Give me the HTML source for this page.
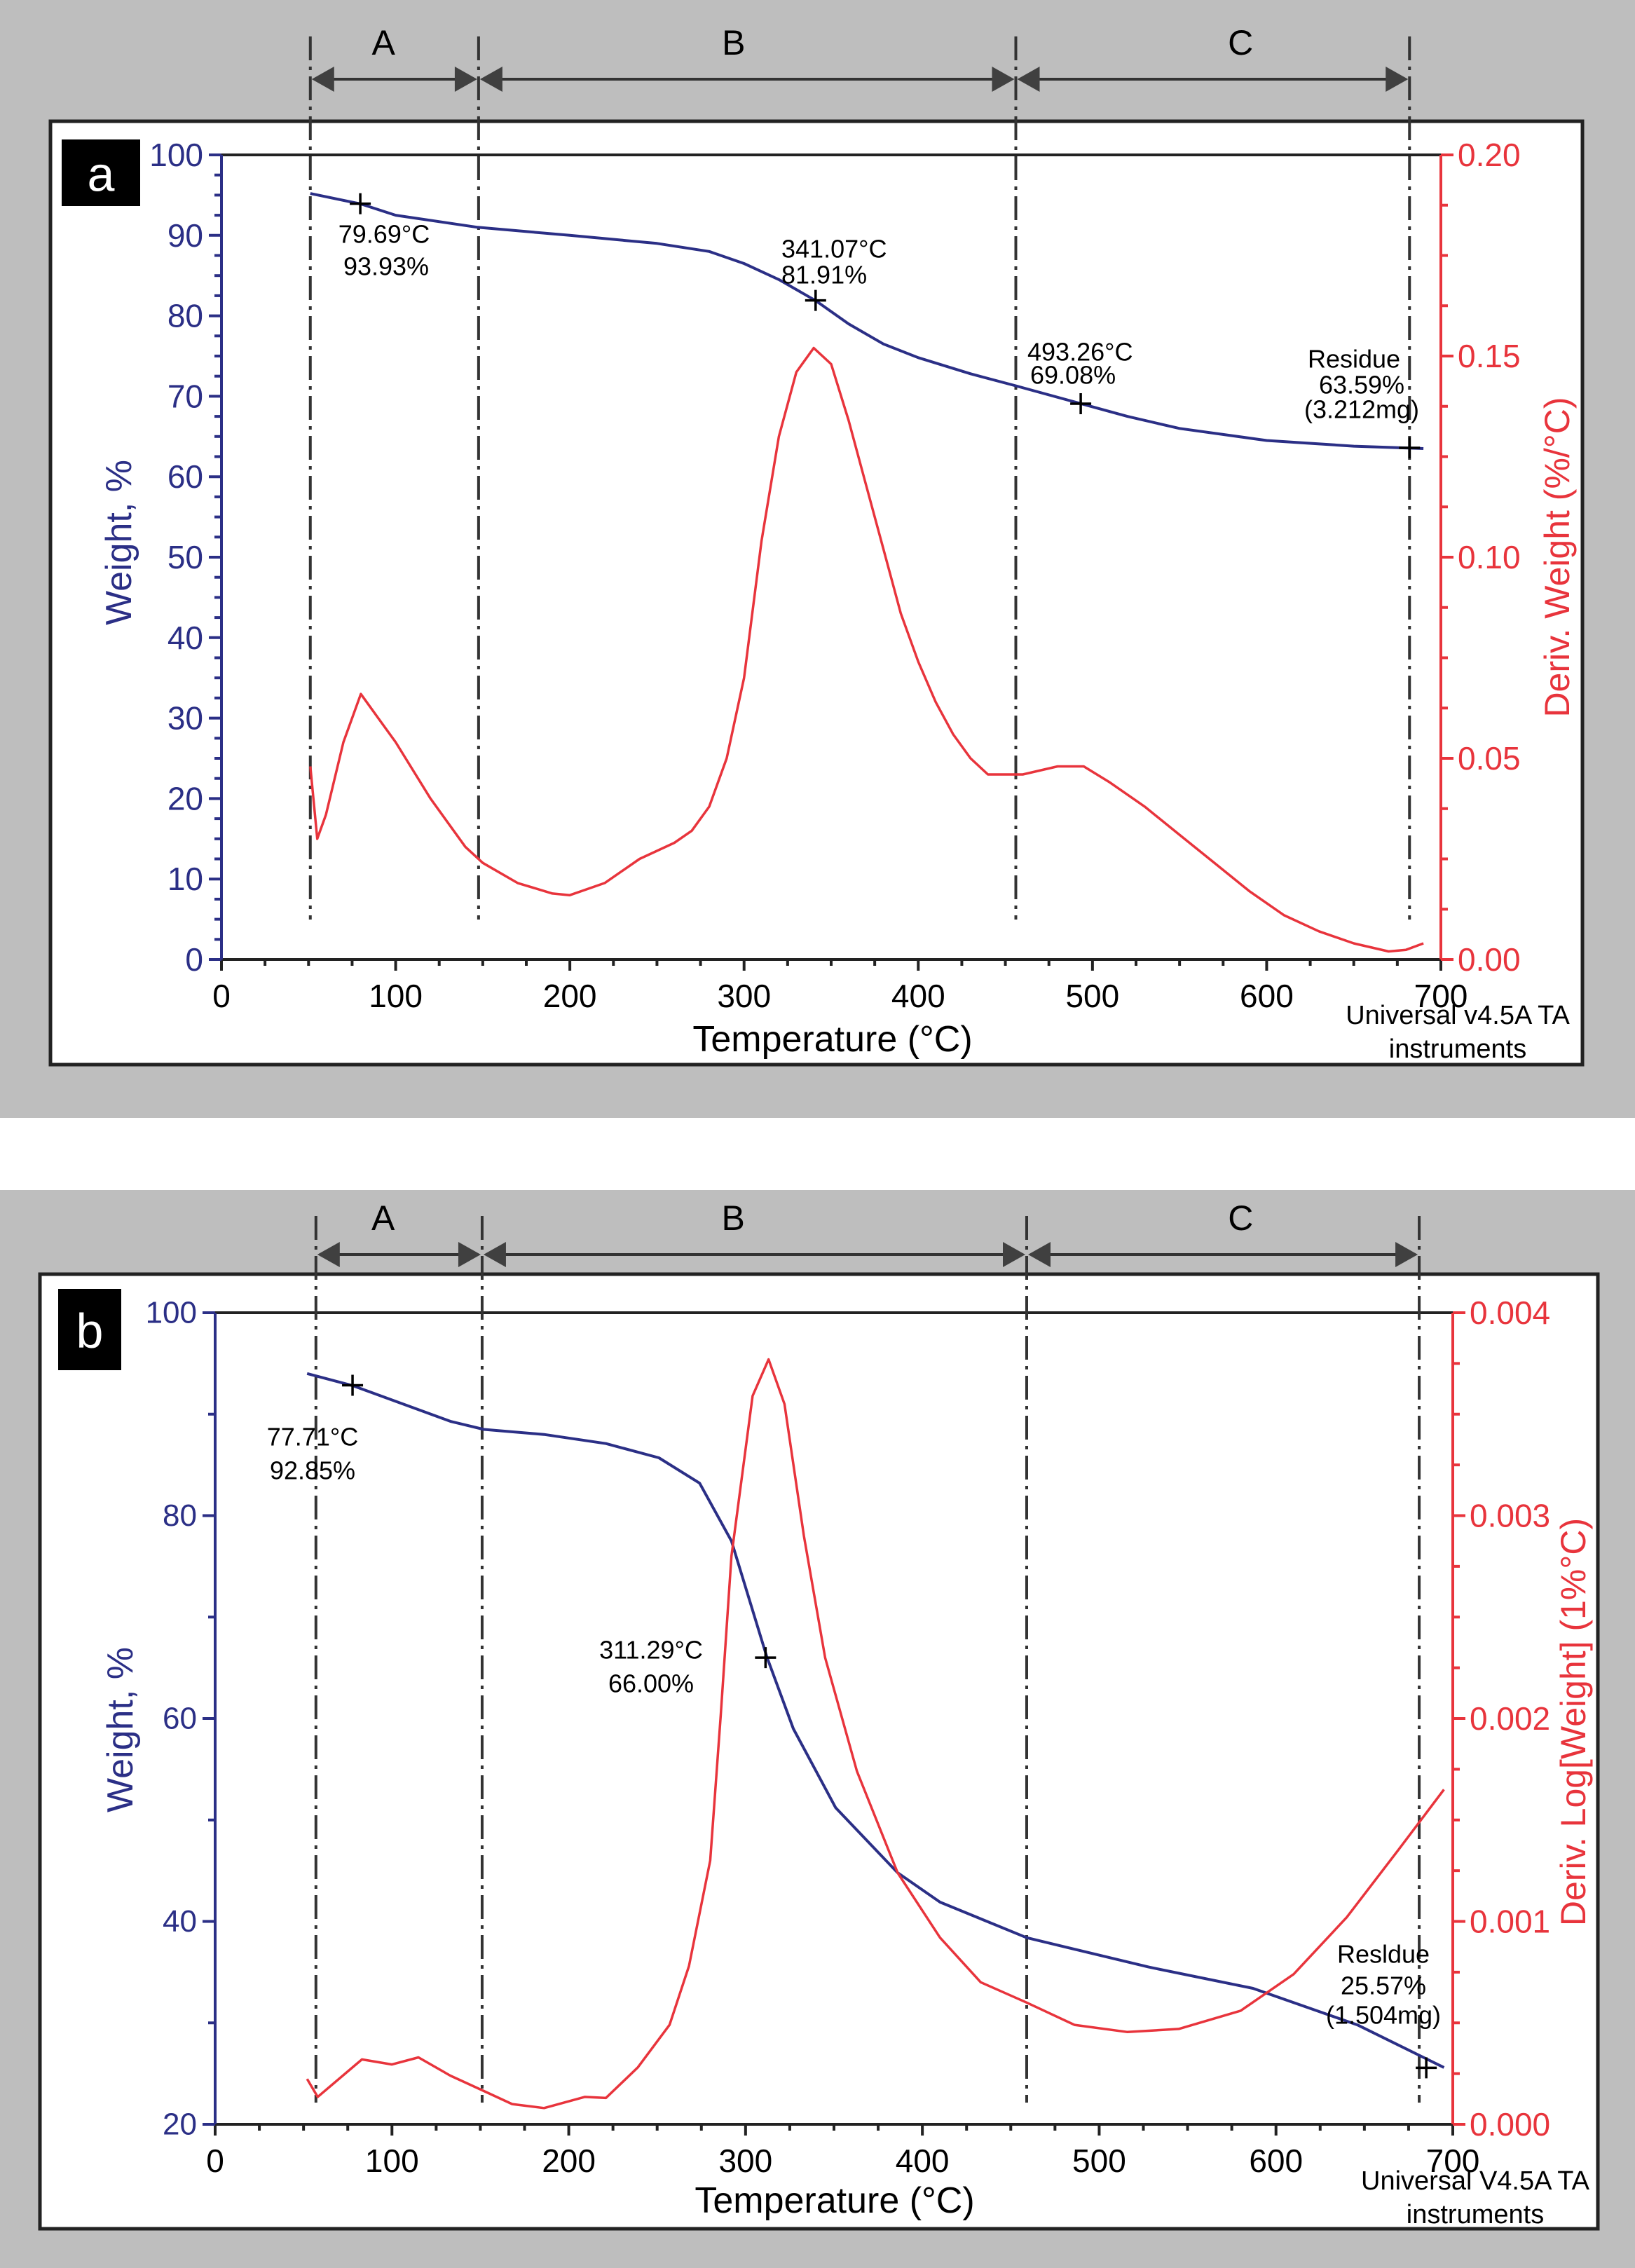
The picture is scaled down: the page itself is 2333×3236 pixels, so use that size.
<!DOCTYPE html>
<html><head><meta charset="utf-8">
<style>
html,body{margin:0;padding:0;background:#fff;}
svg{display:block;font-family:"Liberation Sans",Arial,sans-serif;}
</style></head>
<body>
<svg id="fig" width="2333" height="3236" viewBox="0 0 2333 3236" xmlns="http://www.w3.org/2000/svg"></svg>
<script>
// ---------- Panel a data ----------
const aWeightT = [51,80,100,147,200,250,280,300,320,341,360,380,400,430,456,493,520,550,600,650,690];
const aWeight  = [95.2,93.9,92.5,91,90,89,88,86.5,84.5,81.9,79,76.5,74.8,72.8,71.3,69.1,67.5,66,64.5,63.8,63.5];
const aDerivT  = [51,55,60,70,80,90,100,120,140,150,170,190,200,220,240,260,270,280,290,300,310,320,330,340,350,360,370,380,390,400,410,420,430,440,450,460,480,495,510,530,550,570,590,610,630,650,670,680,690];
const aDeriv   = [0.048,0.030,0.036,0.054,0.066,0.060,0.054,0.040,0.028,0.024,0.019,0.0164,0.016,0.019,0.025,0.029,0.032,0.038,0.050,0.070,0.104,0.130,0.146,0.152,0.148,0.134,0.118,0.102,0.086,0.074,0.064,0.056,0.050,0.046,0.046,0.046,0.048,0.048,0.044,0.038,0.031,0.024,0.017,0.011,0.007,0.004,0.002,0.0024,0.004];
const aBounds  = [51,147.6,456,682];
const aRegions = ["A","B","C"];
const aRegionLabelT = [93,294,585];
const aMarkT   = [79.69,341.07,493.26,682];
const aMarkW   = [93.93,81.91,69.08,63.59];
const aXTicks  = [0,100,200,300,400,500,600,700];
const aYTicks  = [0,10,20,30,40,50,60,70,80,90,100];
const aRTicks  = ["0.00","0.05","0.10","0.15","0.20"];

// ---------- Panel b data ----------
const bWeightT = [52,78,133,152,186,221,251,274,292,312,327,351,386,410,459,528,587,646,695];
const bWeight  = [94.0,92.8,89.3,88.5,88.0,87.1,85.7,83.2,77.5,66.1,59.0,51.2,44.8,41.9,38.4,35.5,33.4,29.8,25.6];
const bDerivT  = [52,58,83,100,115,133,152,168,186,209,221,239,257,268,280,286,292,304,313,322,333,345,363,386,410,433,459,486,516,545,580,610,640,669,695];
const bDeriv   = [0.000224,0.000135,0.00032,0.000295,0.00033,0.00024,0.000164,0.0001,0.00008,0.000135,0.00013,0.00028,0.00049,0.00078,0.0013,0.00202,0.0028,0.00359,0.00377,0.00355,0.0029,0.0023,0.00174,0.00124,0.00092,0.0007,0.0006,0.00049,0.000455,0.00047,0.00056,0.00074,0.00102,0.00135,0.00165];
const bBounds  = [57,151,459,681];
const bRegions = ["A","B","C"];
const bRegionLabelT = [95,293,580];
const bMarkT   = [77.71,311.29,685];
const bMarkW   = [92.85,66.00,25.57];
const bXTicks  = [0,100,200,300,400,500,600,700];
const bYTicks  = [20,40,60,80,100];
const bRTicks  = ["0.000","0.001","0.002","0.003","0.004"];

const NS="http://www.w3.org/2000/svg";
const svg=document.getElementById('fig');
const BLUE="#2b2f86", RED="#e8343c";
function mk(tag,attrs,parent,txt){const e=document.createElementNS(NS,tag);for(const k in attrs)e.setAttribute(k,attrs[k]);if(txt!==undefined)e.textContent=txt;(parent||svg).appendChild(e);return e;}

function panel(cfg){
  const g=mk('g',{});
  
  
  const bg=mk('rect',{x:0,y:cfg.grayTop,width:2333,height:cfg.grayBot-cfg.grayTop,fill:'#bebebe'},g);
  
  
  const box=mk('rect',{x:cfg.box[0],y:cfg.box[1],width:cfg.box[2]-cfg.box[0],height:cfg.box[3]-cfg.box[1],fill:'#fff',stroke:'#222','stroke-width':5},g);
  
  
  const X=t=>cfg.x0+(cfg.x1-cfg.x0)*t/700;
  const Y=w=>cfg.yBot+(cfg.yTop-cfg.yBot)*(w-cfg.wMin)/(cfg.wMax-cfg.wMin);
  const YR=d=>cfg.yBot+(cfg.yTop-cfg.yBot)*d/cfg.dMax;
  mk('rect',{x:cfg.lab[0]-8,y:cfg.lab[1]-8,width:cfg.lab[2]+22,height:cfg.lab[3]+22,fill:'#fff',opacity:0.9},g);
  const lb=mk('rect',{x:cfg.lab[0],y:cfg.lab[1],width:cfg.lab[2],height:cfg.lab[3],fill:'#000'},g);
  
  
  const lt=mk('text',{x:cfg.lab[0]+cfg.lab[2]/2,y:cfg.lab[1]+cfg.lab[3]/2+2,fill:'#fff','font-size':70,'text-anchor':'middle','dominant-baseline':'central'},g,cfg.letter);
  
  
  mk('line',{x1:cfg.x0,y1:cfg.yTop,x2:cfg.x1,y2:cfg.yTop,stroke:'#222','stroke-width':4},g);
  const xa=mk('line',{x1:cfg.x0,y1:cfg.yBot,x2:cfg.x1,y2:cfg.yBot,stroke:'#222','stroke-width':4},g);
  
  
  const ya=mk('line',{x1:cfg.x0,y1:cfg.yTop,x2:cfg.x0,y2:cfg.yBot,stroke:BLUE,'stroke-width':4},g);
  
  
  const ra=mk('line',{x1:cfg.x1,y1:cfg.yTop,x2:cfg.x1,y2:cfg.yBot,stroke:RED,'stroke-width':4},g);
  
  
  for(let t=0;t<=700;t+=25){const maj=t%100===0;mk('line',{x1:X(t),y1:cfg.yBot,x2:X(t),y2:cfg.yBot+(maj?16:9),stroke:'#222','stroke-width':4},g);}
  cfg.xt.forEach(t=>{const e=mk('text',{x:X(t),y:cfg.yBot+52,'font-size':46,'text-anchor':'middle','dominant-baseline':'central',fill:'#000'},g,String(t));
    
    });
  const step=cfg.yt[1]-cfg.yt[0];
  for(let w=cfg.wMin;w<=cfg.wMax+0.001;w+=step/cfg.minorDiv){const maj=Math.abs((w-cfg.wMin)%step)<0.01||Math.abs((w-cfg.wMin)%step-step)<0.01;mk('line',{x1:cfg.x0,y1:Y(w),x2:cfg.x0-(maj?18:10),y2:Y(w),stroke:BLUE,'stroke-width':4},g);}
  cfg.yt.forEach(w=>{const e=mk('text',{x:cfg.x0-26,y:Y(w),'font-size':cfg.ytFont,'text-anchor':'end','dominant-baseline':'central',fill:BLUE},g,String(w));
    
    });
  for(let i=0;i<=(cfg.rt.length-1)*4;i++){const d=cfg.dMax*i/((cfg.rt.length-1)*4);mk('line',{x1:cfg.x1,y1:YR(d),x2:cfg.x1+(i%4===0?18:10),y2:YR(d),stroke:RED,'stroke-width':4},g);}
  cfg.rt.forEach(s=>{const e=mk('text',{x:cfg.x1+24,y:YR(parseFloat(s)),'font-size':46,'text-anchor':'start','dominant-baseline':'central',fill:RED},g,s);
    
    });
  const xt=mk('text',{x:cfg.xTitle[0],y:cfg.xTitle[1],'font-size':52,'text-anchor':'middle','dominant-baseline':'central',fill:'#000'},g,'Temperature (°C)');
  
  
  const yt=mk('text',{x:0,y:0,'font-size':52,'text-anchor':'middle','dominant-baseline':'central',fill:BLUE,transform:`translate(${cfg.yTitle[0]},${cfg.yTitle[1]}) rotate(-90)`},g,'Weight, %');
  
  
  const rt=mk('text',{x:0,y:0,'font-size':cfg.rFont,'text-anchor':'middle','dominant-baseline':'central',fill:RED,transform:`translate(${cfg.rTitle[0]},${cfg.rTitle[1]}) rotate(-90)`},g,cfg.rTitleText);
  
  
  cfg.univ.forEach((l,i)=>{const e=mk('text',{x:cfg.univPos[0],y:cfg.univPos[1]+i*48,'font-size':38,'text-anchor':'middle','dominant-baseline':'central',fill:'#000'},g,l);
    
    });
  cfg.bounds.forEach(t=>{const e=mk('line',{x1:X(t),y1:cfg.dashTop,x2:X(t),y2:cfg.dashBot,stroke:'#333','stroke-width':4,'stroke-dasharray':'34 9 5 9'},g);
    
    });
  for(let i=0;i<cfg.regions.length;i++){
    const xa1=X(cfg.bounds[i]),xa2=X(cfg.bounds[i+1]),ay=cfg.arrowY;
    const al=mk('line',{x1:xa1+20,y1:ay,x2:xa2-20,y2:ay,stroke:'#333','stroke-width':4},g);
    
    
    mk('polygon',{points:`${xa1+2},${ay} ${xa1+34},${ay-18} ${xa1+34},${ay+18}`,fill:'#404040'},g);
    mk('polygon',{points:`${xa2-2},${ay} ${xa2-34},${ay-18} ${xa2-34},${ay+18}`,fill:'#404040'},g);
    const rl=mk('text',{x:X(cfg.regionT[i]),y:cfg.arrowY-52,'font-size':50,'text-anchor':'middle','dominant-baseline':'central',fill:'#000'},g,cfg.regions[i]);
    
    
  }
  const dw=cfg.wT.map((t,i)=>(i?'L':'M')+X(t).toFixed(1)+','+Y(cfg.w[i]).toFixed(1)).join(' ');
  const wc=mk('path',{d:dw,fill:'none',stroke:BLUE,'stroke-width':4,'stroke-linejoin':'round'},g);
  
  
  const dd=cfg.dT.map((t,i)=>(i?'L':'M')+X(t).toFixed(1)+','+YR(cfg.d[i]).toFixed(1)).join(' ');
  const dc=mk('path',{d:dd,fill:'none',stroke:RED,'stroke-width':3.5,'stroke-linejoin':'round'},g);
  
  
  cfg.mT.forEach((t,i)=>{const cx=X(t),cy=Y(cfg.mW[i]);
    const m=mk('path',{d:`M${cx-15},${cy}H${cx+15}M${cx},${cy-15}V${cy+15}`,stroke:'#000','stroke-width':3.5},g);
    
    });
  cfg.ann.forEach(a=>{const e=mk('text',{x:a[0],y:a[1],'font-size':36,'text-anchor':a[3]||'middle','dominant-baseline':'central',fill:'#000'},g,a[2]);
    
    });
}

panel({name:'panel-a',letter:'a',grayTop:0,grayBot:1595,box:[72,173,2258,1519],lab:[88,199,112,95],
  x0:316,x1:2056,yTop:221,yBot:1369,wMin:0,wMax:100,dMax:0.20,minorDiv:4,ytFont:46,
  xt:aXTicks,yt:aYTicks,rt:aRTicks,
  xTitle:[1188,1483],yTitle:[170,774],rTitle:[2222,795],rTitleText:'Deriv. Weight (%/°C)',rFont:50,
  univ:['Universal v4.5A TA','instruments'],univPos:[2080,1449],
  bounds:aBounds,regions:aRegions,regionT:aRegionLabelT,dashTop:52,dashBot:1312,arrowY:113,
  wT:aWeightT,w:aWeight,dT:aDerivT,d:aDeriv,mT:aMarkT,mW:aMarkW,
  ann:[[548,334,'79.69°C'],[551,380,'93.93%'],[1115,355,'341.07°C','start'],[1115,392,'81.91%','start'],[1466,502,'493.26°C','start'],[1470,535,'69.08%','start'],[1932,512,'Residue'],[1943,549,'63.59%'],[1943,584,'(3.212mg)']]
});
panel({name:'panel-b',letter:'b',grayTop:1698,grayBot:3236,box:[57,1818,2280,3180],lab:[83,1839,90,116],
  x0:307,x1:2073,yTop:1873,yBot:3031,wMin:20,wMax:100,dMax:0.004,minorDiv:2,ytFont:44,
  xt:bXTicks,yt:bYTicks,rt:bRTicks,
  xTitle:[1191,3140],yTitle:[172,2468],rTitle:[2245,2457],rTitleText:'Deriv. Log[Weight] (1%°C)',rFont:50,
  univ:['Universal V4.5A TA','instruments'],univPos:[2105,3112],
  bounds:bBounds,regions:bRegions,regionT:bRegionLabelT,dashTop:1735,dashBot:3000,arrowY:1790,
  wT:bWeightT,w:bWeight,dT:bDerivT,d:bDeriv,mT:bMarkT,mW:bMarkW,
  ann:[[446,2050,'77.71°C'],[446,2098,'92.85%'],[929,2354,'311.29°C'],[929,2402,'66.00%'],[1974,2788,'Resldue'],[1974,2833,'25.57%'],[1974,2875,'(1.504mg)']]
});
</script>
</body></html>
